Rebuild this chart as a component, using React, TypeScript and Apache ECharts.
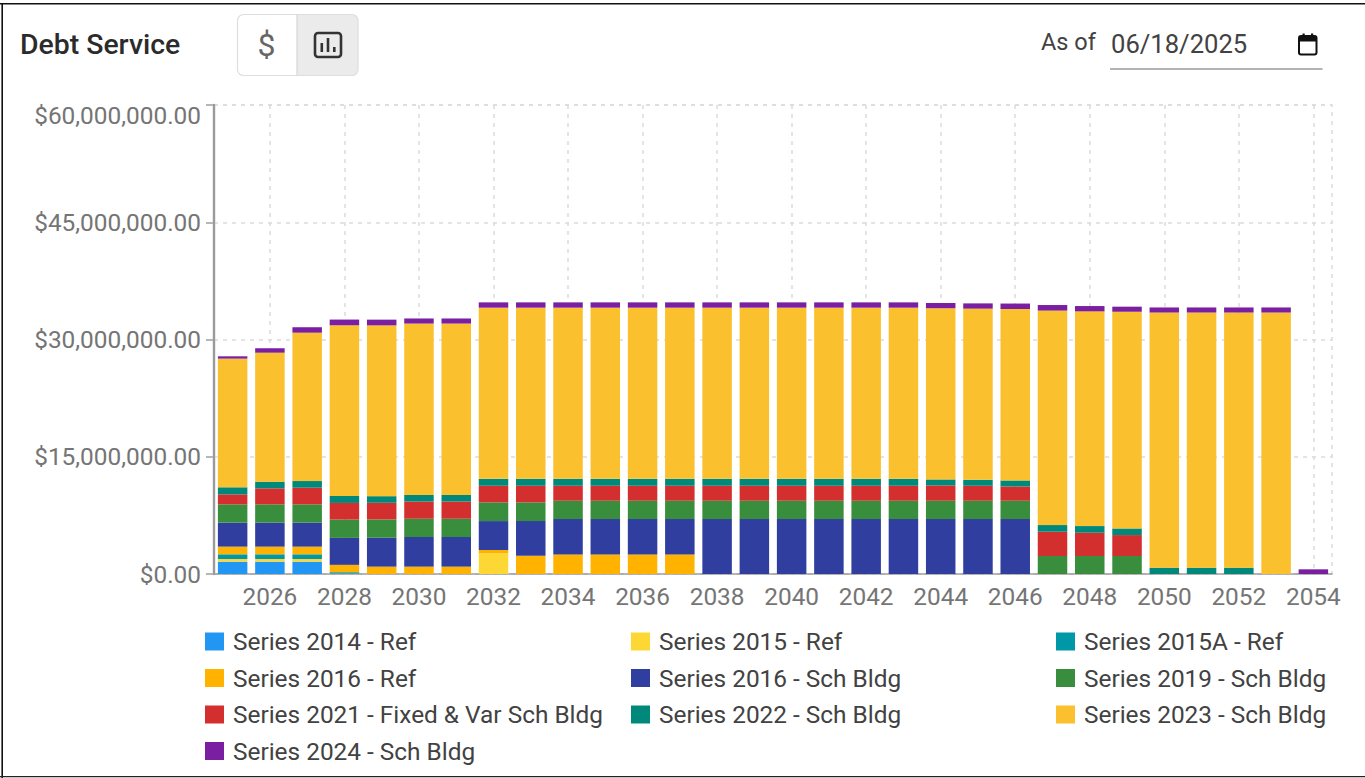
import React, { useEffect, useRef } from "react";
import * as echarts from "echarts";

const years = ["2025","2026","2027","2028","2029","2030","2031","2032","2033","2034","2035","2036","2037","2038","2039","2040","2041","2042","2043","2044","2045","2046","2047","2048","2049","2050","2051","2052","2053","2054"];

const s2014Ref = [1.58,1.58,1.58,0.03,0,0,0,0,0,0,0,0,0,0,0,0,0,0,0,0,0,0,0,0,0,0,0,0,0,0];
const s2015Ref = [0.34,0.34,0.34,0.03,0,0,0,2.64,0,0,0,0,0,0,0,0,0,0,0,0,0,0,0,0,0,0,0,0,0,0];
const s2015ARef = [0.6,0.6,0.6,0.17,0,0,0,0,0,0,0,0,0,0,0,0,0,0,0,0,0,0,0,0,0,0,0,0,0,0];
const s2016Ref = [0.98,0.98,0.98,0.94,0.94,0.94,0.94,0.43,2.34,2.51,2.51,2.51,2.51,0,0,0,0,0,0,0,0,0,0,0,0,0,0,0,0,0];
const s2016Sch = [3.07,3.07,3.07,3.45,3.7,3.79,3.79,3.7,4.43,4.52,4.52,4.52,4.52,7.03,7.03,7.03,7.03,7.03,7.03,7.03,7.03,7.03,0,0,0,0,0,0,0,0];
const s2019Sch = [2.34,2.34,2.34,2.34,2.34,2.34,2.34,2.39,2.39,2.34,2.34,2.34,2.34,2.34,2.34,2.34,2.34,2.34,2.34,2.34,2.34,2.34,2.3,2.3,2.3,0,0,0,0,0];
const s2021Sch = [1.28,2.05,2.13,2.13,2.13,2.2,2.2,2.13,2.13,1.92,1.92,1.92,1.92,1.92,1.92,1.92,1.92,1.92,1.92,1.96,1.92,1.83,3.11,2.98,2.68,0,0,0,0,0];
const s2022Sch = [0.9,0.85,0.85,0.89,0.85,0.85,0.85,0.89,0.89,0.89,0.89,0.89,0.89,0.89,0.89,0.89,0.89,0.89,0.89,0.77,0.77,0.77,0.85,0.85,0.85,0.81,0.81,0.81,0,0];
const s2023Sch = [16.46,16.5,18.98,21.84,21.85,21.92,21.92,21.89,21.89,21.89,21.89,21.89,21.89,21.89,21.89,21.89,21.89,21.89,21.89,21.9,21.89,21.93,27.44,27.47,27.72,32.64,32.64,32.64,33.45,0];
const s2024Sch = [0.3,0.57,0.7,0.73,0.73,0.65,0.65,0.68,0.68,0.68,0.68,0.68,0.68,0.68,0.68,0.68,0.68,0.68,0.68,0.67,0.67,0.7,0.71,0.68,0.65,0.65,0.65,0.65,0.65,0.6];

const seriesNames = ["Series 2014 - Ref","Series 2015 - Ref","Series 2015A - Ref","Series 2016 - Ref","Series 2016 - Sch Bldg","Series 2019 - Sch Bldg","Series 2021 - Fixed & Var Sch Bldg","Series 2022 - Sch Bldg","Series 2023 - Sch Bldg","Series 2024 - Sch Bldg"];
const seriesValues = [s2014Ref,s2015Ref,s2015ARef,s2016Ref,s2016Sch,s2019Sch,s2021Sch,s2022Sch,s2023Sch,s2024Sch];
const colors = ["#2196F3","#FDD835","#0097A7","#FFB300","#303F9F","#388E3C","#D32F2F","#00897B","#FBC02D","#7B1FA2"];

const font = "Roboto";
const axisMax = 60000000;

function money(v: number) {
  const s = "$" + v.toLocaleString("en-US", { minimumFractionDigits: 2, maximumFractionDigits: 2 });
  return v === axisMax ? `{top|${s}}` : s;
}

export default function App() {
  const ref = useRef<HTMLDivElement>(null);
  useEffect(() => {
    document.body.style.margin = "0";
    const chart = echarts.init(ref.current!, null, { renderer: "svg" });
    const legendBase = {
      orient: "vertical", top: 629.5, height: 148, padding: 0, itemWidth: 19, itemHeight: 18, itemGap: 12.5, icon: "rect",
      selectedMode: false,
      textStyle: { fontFamily: font, fontSize: 24.4, lineHeight: 18, color: "#424242", padding: [0, 0, 0, 4] },
    };
    const showOdd = (i: number) => i % 2 === 1;
    chart.setOption({
      animation: false,
      backgroundColor: "#ffffff",
      grid: { left: 214, right: 33, top: 105, bottom: 204, show: true, borderColor: "#dcdcdc", borderWidth: 1.5, borderType: [4, 5] },
      legend: [
        { ...legendBase, left: 205, data: [seriesNames[0], seriesNames[3], seriesNames[6], seriesNames[9]] },
        { ...legendBase, left: 631, data: [seriesNames[1], seriesNames[4], seriesNames[7]] },
        { ...legendBase, left: 1056, data: [seriesNames[2], seriesNames[5], seriesNames[8]] },
      ],
      xAxis: {
        type: "category", data: years,
        axisLine: { lineStyle: { color: "#9e9e9e", width: 1.5 } },
        axisTick: { alignWithLabel: true, interval: showOdd, length: 9, lineStyle: { color: "#8a8a8a", width: 1.5 } },
        axisLabel: { interval: showOdd, fontFamily: font, fontSize: 24.4, color: "#757575", margin: 10 },
        splitLine: { show: true, alignWithLabel: true, interval: showOdd, lineStyle: { color: "#dcdcdc", type: [4, 5], width: 1.5 } },
      },
      yAxis: {
        type: "value", min: 0, max: axisMax, interval: 15000000,
        axisLine: { show: true, lineStyle: { color: "#9a9a9a", width: 2.4 } },
        axisTick: { show: true, length: 8, lineStyle: { color: "#9e9e9e", width: 1.5 } },
        axisLabel: {
          formatter: money, fontFamily: font, fontSize: 24.4, color: "#757575", margin: 13,
          rich: { top: { fontFamily: font, fontSize: 24.4, color: "#757575", padding: [20, 0, 0, 0] } },
        },
        splitLine: { show: true, lineStyle: { color: "#dcdcdc", type: [4, 5], width: 1.5 } },
      },
      series: seriesNames.map((name, i) => ({
        name, type: "bar", stack: "debt", barWidth: 29.5,
        itemStyle: { color: colors[i] },
        data: seriesValues[i].map((v) => Math.round(v * 1e6)),
      })),
      graphic: [
        { type: "rect", shape: { x: 0, y: 3, width: 1365, height: 1.6 }, style: { fill: "#111" }, silent: true },
        { type: "rect", shape: { x: 1.4, y: 3, width: 1.6, height: 775 }, style: { fill: "#111" }, silent: true },
        { type: "rect", shape: { x: 0, y: 776, width: 1365, height: 1.2 }, style: { fill: "#222" }, silent: true },
        { type: "text", x: 20, y: 44, style: { text: "Debt Service", font: `500 28.4px ${font}`, fill: "#2b2b2b", textVerticalAlign: "middle" } },
        { type: "rect", shape: { x: 297, y: 14.5, width: 61, height: 61, r: [0, 6, 6, 0] }, style: { fill: "#ebebeb" } },
        { type: "rect", shape: { x: 237.5, y: 14.5, width: 120.5, height: 61, r: 6 }, style: { fill: "none", stroke: "#dedede", lineWidth: 1.2 } },
        { type: "line", shape: { x1: 297, y1: 14.5, x2: 297, y2: 75.5 }, style: { stroke: "#d6d6d6", lineWidth: 1.2 } },
        { type: "text", x: 266.5, y: 45, style: { text: "$", font: `400 32px ${font}`, fill: "#666666", textAlign: "center", textVerticalAlign: "middle" } },
        { type: "rect", shape: { x: 315, y: 33, width: 26, height: 24, r: 3 }, style: { fill: "none", stroke: "#333", lineWidth: 2.6 } },
        { type: "rect", shape: { x: 320.5, y: 43, width: 2.6, height: 9 }, style: { fill: "#333" } },
        { type: "rect", shape: { x: 326.7, y: 38, width: 2.6, height: 14 }, style: { fill: "#333" } },
        { type: "rect", shape: { x: 333, y: 47, width: 2.6, height: 5 }, style: { fill: "#333" } },
        { type: "text", x: 1041, y: 41.5, style: { text: "As of", font: `400 23.5px ${font}`, fill: "#424242", textVerticalAlign: "middle" } },
        { type: "text", x: 1111, y: 44, style: { text: "06/18/2025", font: `400 25.6px ${font}`, fill: "#424242", textVerticalAlign: "middle" } },
        { type: "line", shape: { x1: 1110, y1: 69, x2: 1322.5, y2: 69 }, style: { stroke: "#9a9a9a", lineWidth: 1.3 } },
        { type: "rect", shape: { x: 1299, y: 36, width: 17.5, height: 18.5, r: 2 }, style: { fill: "none", stroke: "#111", lineWidth: 2 } },
        { type: "rect", shape: { x: 1299, y: 36, width: 17.5, height: 5.5 }, style: { fill: "#111" } },
        { type: "rect", shape: { x: 1302.5, y: 33.5, width: 2.2, height: 3 }, style: { fill: "#111" } },
        { type: "rect", shape: { x: 1311, y: 33.5, width: 2.2, height: 3 }, style: { fill: "#111" } },
      ],
    });
    return () => chart.dispose();
  }, []);
  return <div ref={ref} style={{ width: 1365, height: 778 }} />;
}
